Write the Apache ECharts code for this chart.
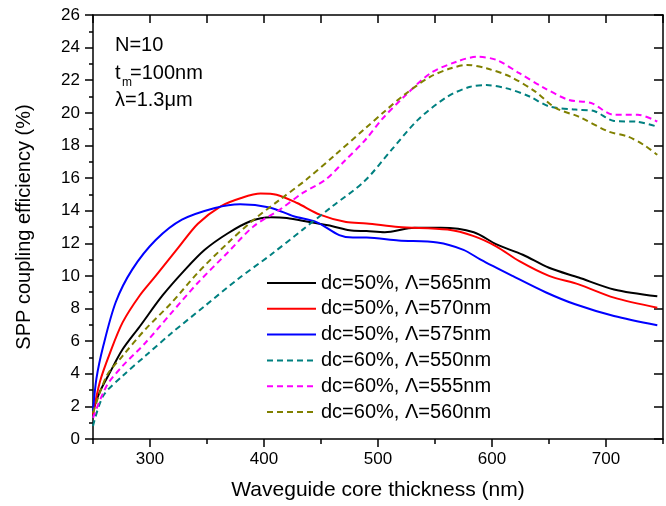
<!DOCTYPE html>
<html>
<head>
<meta charset="UTF-8">
<title>SPP coupling efficiency</title>
<script type="text/javascript" src="https://cdn.jsdelivr.net/npm/echarts@6/dist/echarts.min.js"></script>
<style>
	body { margin: 0; background: #fff; }
</style>
</head>
<body>
	<div id="box" style="width: 666px; height: 506px;"></div>

	<script type="text/javascript">
		// data: [thickness (nm), efficiency (%)]
		var dc50_565 = [[250,1.7],[256,2.9],[265,4.1],[276,5.5],[291,6.9],[311,8.8],[331,10.4],[348,11.6],[368,12.6],[388,13.35],[406,13.6],[420,13.55],[440,13.3],[460,13.05],[475,12.8],[490,12.75],[506,12.68],[532,12.95],[555,12.95],[584,12.68],[604,11.93],[627,11.3],[650,10.5],[676,9.9],[707,9.17],[745,8.75]];
		var dc50_570 = [[250,1.5],[256,3.5],[265,5.3],[276,7.15],[291,8.8],[305,10.0],[325,11.75],[342,13.2],[362,14.27],[380,14.78],[397,15.05],[411,14.98],[429,14.47],[449,13.76],[472,13.3],[490,13.22],[518,13.0],[561,12.84],[584,12.44],[604,11.8],[624,10.9],[650,10.0],[676,9.48],[707,8.67],[745,8.05]];
		var dc50_575 = [[250,1.7],[253,3.7],[259,5.7],[270,8.4],[284.5,10.4],[305,12.2],[328,13.45],[357,14.17],[379,14.4],[405,14.2],[426,13.66],[446,13.3],[466,12.5],[478,12.35],[490,12.35],[518,12.17],[552,12.05],[575,11.6],[590,11.0],[618,10.0],[647,9.0],[673,8.26],[707,7.54],[745,6.97]];
		var dc60_550 = [[250,0.8],[259,2.65],[276,3.87],[296,5.1],[319,6.5],[348,8.15],[377,9.8],[406,11.3],[434,12.84],[460,14.27],[488,15.8],[512,17.74],[535,19.57],[561,21.0],[581,21.6],[595,21.7],[613,21.5],[633,21.0],[650,20.4],[673,20.2],[690,20.1],[707,19.5],[728,19.45],[745,19.15]];
		var dc60_555 = [[250,1.3],[262,3.26],[276,4.48],[296,5.9],[319,7.75],[342,9.58],[368,11.42],[391,13.05],[414,14.07],[434,15.09],[454,15.9],[470,17.0],[489,18.35],[503,19.57],[523,21.0],[546,22.43],[569,23.14],[587,23.44],[604,23.24],[624,22.43],[644,21.6],[667,20.8],[687,20.6],[707,19.88],[728,19.88],[745,19.47]];
		var dc60_560 = [[250,1.6],[262,3.87],[276,5.1],[296,6.73],[319,8.36],[342,10.2],[368,12.0],[391,13.45],[414,14.68],[437,15.9],[462,17.4],[489,19.06],[506,20.1],[523,21.1],[546,22.22],[564,22.73],[578,22.94],[595,22.73],[616,22.22],[638,21.3],[656,20.29],[676,19.77],[702,18.86],[719,18.55],[733,18.04],[745,17.43]];

		var names = ['dc=50%, Λ=565nm', 'dc=50%, Λ=570nm', 'dc=50%, Λ=575nm',
			'dc=60%, Λ=550nm', 'dc=60%, Λ=555nm', 'dc=60%, Λ=560nm'];
		var colors = ['#000000', '#ff0000', '#0000ff', '#008080', '#ff00ff', '#808000'];
		var xMajorTicks = [300, 400, 500, 600, 700];

		var font = 'Liberation Sans, Arial, sans-serif';

		function makeSeries(i, data, dashed) {
			return {
				name : names[i],
				type : 'line',
				data : data,
				smooth : 0.3,
				symbol : 'none',
				lineStyle : { color : colors[i], width : 2, type : dashed ? [6, 4] : 'solid' },
				itemStyle : { color : colors[i] }
			};
		}

		var myChart = echarts.init(document.getElementById('box'));
		myChart.setOption({
			animation : false,
			color : colors,
			textStyle : { fontFamily : font },
			grid : { left : 93, right : -6.5, top : 15, bottom : 66 },
			legend : {
				orient : 'vertical',
				left : 261,
				top : 268,
				itemWidth : 49,
				itemHeight : 14,
				itemGap : 5.8,
				itemStyle : { opacity : 0 },
				textStyle : { fontSize : 20, color : '#000', fontFamily : font },
				data : names
			},
			xAxis : [ {
				type : 'value', min : 250, max : 750, interval : 50,
				position : 'bottom',
				name : 'Waveguide core thickness (nm)',
				nameLocation : 'middle', nameGap : 41,
				nameTextStyle : { fontSize : 21, color : '#000', fontFamily : font },
				axisLine : { lineStyle : { color : '#000', width : 1.5 } },
				axisTick : { inside : false, length : 5, lineStyle : { color : '#000', width : 1.5 } },
				axisLabel : {
					fontSize : 17, color : '#000', margin : 12, fontFamily : font,
					formatter : function(v) { return (v % 100 === 0 && v > 250 && v < 750) ? String(v) : ''; }
				},
				splitLine : { show : false }
			}, {
				type : 'value', min : 250, max : 750,
				position : 'bottom',
				axisLine : { show : false },
				axisTick : { inside : false, length : 8, customValues : xMajorTicks, lineStyle : { color : '#000', width : 1.5 } },
				axisLabel : { show : false },
				splitLine : { show : false }
			}, {
				type : 'value', min : 250, max : 750, interval : 50,
				position : 'top',
				axisLine : { lineStyle : { color : '#000', width : 1.5 } },
				axisTick : { inside : true, length : 8, lineStyle : { color : '#000', width : 1.5 } },
				axisLabel : { show : false },
				splitLine : { show : false }
			} ],
			yAxis : [ {
				type : 'value', min : 0, max : 26, interval : 2,
				position : 'left',
				name : 'SPP coupling efficiency (%)',
				nameLocation : 'middle', nameGap : 59, nameRotate : 90,
				nameTextStyle : { fontSize : 20, color : '#000', fontFamily : font },
				axisLine : { show : true, lineStyle : { color : '#000', width : 1.5 } },
				axisTick : { show : true, inside : false, length : 8, lineStyle : { color : '#000', width : 1.5 } },
				minorTick : { show : true, splitNumber : 2, length : 4, lineStyle : { color : '#000', width : 1.5 } },
				axisLabel : { fontSize : 17, color : '#000', margin : 13, fontFamily : font },
				splitLine : { show : false }
			}, {
				type : 'value', min : 0, max : 26, interval : 2,
				position : 'right',
				axisLine : { show : true, lineStyle : { color : '#000', width : 1.5 } },
				axisTick : { show : true, inside : true, length : 9, lineStyle : { color : '#000', width : 1.5 } },
				axisLabel : { show : false },
				splitLine : { show : false }
			} ],
			graphic : [
				{ type : 'text', left : 115, top : 35, style : { text : 'N=10', fontSize : 20, fill : '#000', fontFamily : font } },
				{ type : 'text', left : 115, top : 63, style : { text : 't', fontSize : 20, fill : '#000', fontFamily : font } },
				{ type : 'text', left : 122, top : 77, style : { text : 'm', fontSize : 12, fill : '#000', fontFamily : font } },
				{ type : 'text', left : 130, top : 63, style : { text : '=100nm', fontSize : 20, fill : '#000', fontFamily : font } },
				{ type : 'text', left : 115, top : 90, style : { text : 'λ=1.3μm', fontSize : 20, fill : '#000', fontFamily : font } }
			],
			series : [
				makeSeries(0, dc50_565, false),
				makeSeries(1, dc50_570, false),
				makeSeries(2, dc50_575, false),
				makeSeries(3, dc60_550, true),
				makeSeries(4, dc60_555, true),
				makeSeries(5, dc60_560, true)
			]
		});
	</script>

</body>
</html>
